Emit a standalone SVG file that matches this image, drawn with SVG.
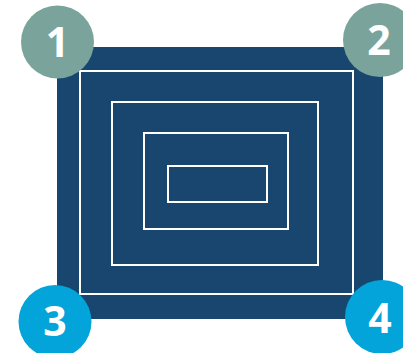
<svg xmlns="http://www.w3.org/2000/svg" width="403" height="353" viewBox="0 0 403 353">
<style>
.frame{fill:none;stroke:#ffffff;stroke-width:2}
.num{fill:#ffffff;font-family:"Open Sans","Liberation Sans",sans-serif;font-weight:bold;font-size:41px;text-anchor:middle}
.gray{fill:#7AA49B}
.blue{fill:#03A4DA}
</style>
<g id="board">
<rect x="57" y="47" width="326" height="272" fill="#18466F"/>
<rect class="frame" x="80" y="71" width="273" height="223"/>
<rect class="frame" x="112" y="102" width="206" height="163"/>
<rect class="frame" x="144" y="133" width="144" height="96"/>
<rect class="frame" x="168" y="166" width="99" height="36"/>
</g>
<g id="n1"><circle class="gray" cx="57.5" cy="42" r="36.5"/><text class="num" x="57.5" y="57">1</text></g>
<g id="n2"><circle class="gray" cx="380" cy="40" r="37"/><text class="num" x="379" y="55">2</text></g>
<g id="n3"><circle class="blue" cx="55" cy="321.5" r="36.5"/><text class="num" x="55" y="336">3</text></g>
<g id="n4"><circle class="blue" cx="382" cy="317" r="37"/><text class="num" x="380" y="333">4</text></g>
<g id="connectors"/>
</svg>
